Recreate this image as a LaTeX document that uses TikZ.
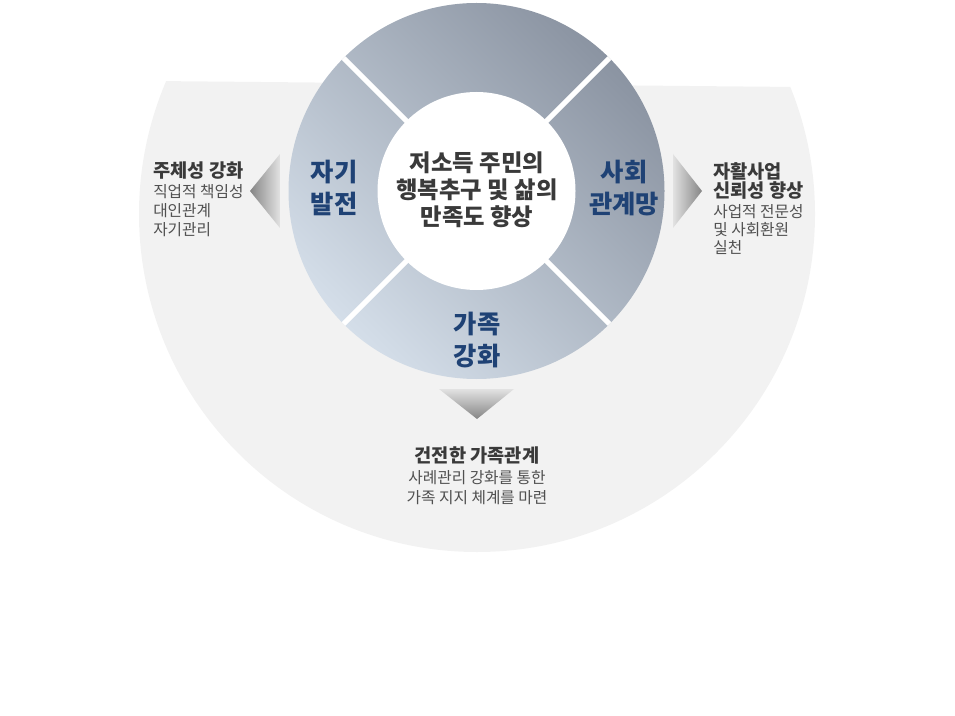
\documentclass[tikz,border=0pt]{standalone}
\usepackage{fontspec}
\setmainfont{Noto Sans CJK KR}
\definecolor{bggray}{HTML}{F2F2F2}
\definecolor{ringdark}{HTML}{8B94A2}
\definecolor{ringlight}{HTML}{D4DEE9}
\definecolor{labelblue}{HTML}{1F4275}
\definecolor{titlegray}{HTML}{3A3A3A}
\definecolor{bodygray}{HTML}{505050}
\definecolor{tipdark}{HTML}{858585}
\definecolor{tiplight}{HTML}{E2E2E2}
\begin{document}
\begin{tikzpicture}[x=0.75pt, y=-0.75pt,
    seglabel/.style={color=labelblue, font=\fontsize{19}{24}\selectfont\bfseries, align=center, inner sep=0},
    sidetitle/.style={color=titlegray, font=\fontsize{14}{14}\selectfont\bfseries, align=left, anchor=north west, inner sep=0},
    sidebody/.style={color=bodygray, font=\fontsize{11.8}{14.2}\selectfont, align=left, anchor=north west, inner sep=0}]

    \useasboundingbox (0,0) rectangle (955,716);

    % grey backdrop
    \begin{scope}
      \clip (100,80.5) -- (850,87.5) -- (850,600) -- (100,600) -- cycle;
      \fill [color=bggray] (477,214) circle (338);
    \end{scope}

    % ring
    \coordinate (c) at (476.5,191);
    \shade [top color=ringdark, bottom color=ringlight, shading angle=-45] (c) circle (188);
    \fill [white] (c) circle (99);
    \foreach \a in {45,135,225,315}
      \draw [white, line width=3.75pt] ([shift={(\a:97)}]c) -- ([shift={(\a:188)}]c);

    \node (goal) [color=titlegray, font=\fontsize{17.5}{20.25}\selectfont\bfseries, align=center] at (477,190) {저소득 주민의\\행복추구 및 삶의\\만족도 향상};
    \node (self) [seglabel] at (334,188) {자기\\발전};
    \node (social) [seglabel] at (624,188) {사회\\관계망};
    \node (family) [seglabel] at (477,340) {가족\\강화};

    % pointers
    \shade [left color=tipdark, right color=tiplight] (250,191) -- (280,154) -- (280,228) -- cycle;
    \shade [left color=tiplight, right color=tipdark] (673,154) -- (702,191) -- (673,228) -- cycle;
    \shade [top color=tiplight, bottom color=tipdark] (439,389) -- (514,389) -- (477,419) -- cycle;

    % left
    \node (lefttitle) [sidetitle] at (153,161.7) {주체성 강화};
    \node (leftbody) [sidebody, font=\fontsize{11.8}{14.5}\selectfont] at (153,183.8) {직업적 책임성\\대인관계\\자기관리};

    % right
    \node (righttitle) [sidetitle] at (713,162.4) {자활사업\\신뢰성 향상};
    \node (rightbody) [sidebody, font=\fontsize{11.8}{13.8}\selectfont] at (713,203.8) {사업적 전문성\\및 사회환원\\실천};

    % bottom
    \node (bottomtitle) [sidetitle, anchor=north] at (477,446.7) {건전한 가족관계};
    \node (bottombody) [sidebody, anchor=north, align=center, font=\fontsize{11.8}{15}\selectfont] at (477,470) {사례관리 강화를 통한\\가족 지지 체계를 마련};
  \end{tikzpicture}
\end{document}
